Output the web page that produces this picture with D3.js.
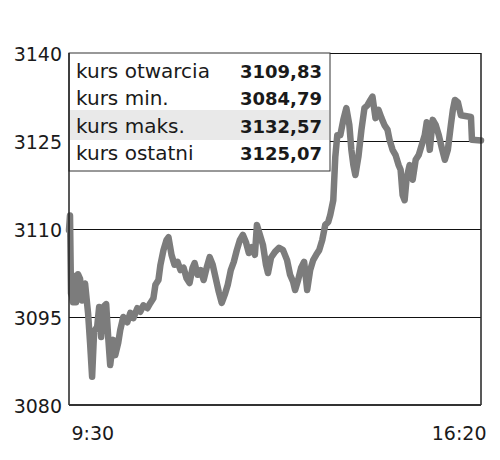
<!DOCTYPE html>
<html>
<head>
<meta charset="utf-8">
<script src="https://cdn.jsdelivr.net/npm/d3@7"></script>
<style>
  body { margin: 0; background: #fff; }
  text { font-family: "DejaVu Sans", sans-serif; fill: #1a1a1a; }
</style>
</head>
<body>
<svg id="chart" width="500" height="460"></svg>
<script>
// minutes after 9:30 and index level
var minutes = [0, 1, 2, 3, 4, 6, 7, 9, 11, 13, 16, 19, 21, 23, 25, 28, 30, 32, 34, 37, 39, 41, 44, 46, 49,
    51, 54, 58, 61, 64, 68, 71, 74, 78, 81, 84, 86, 89, 91, 94, 97, 99, 102, 105, 108, 111, 114, 117, 120,
    123, 125, 128, 131, 134, 137, 140, 143, 146, 149, 152, 155, 158, 161, 164, 167, 170, 173, 176, 179,
    182, 185, 187, 190, 193, 196, 198, 201, 205, 209, 213, 217, 220, 223, 225, 228, 231, 234, 237, 240,
    243, 246, 249, 252, 255, 258, 260, 263, 265, 267, 270, 273, 276, 279, 281, 283, 285, 288, 291, 294,
    297, 300, 302, 305, 308, 311, 314, 317, 319, 322, 325, 328, 330, 332, 334, 336, 339, 342, 345, 348,
    351, 354, 356, 359, 362, 365, 368, 371, 374, 377, 380, 382, 384, 387, 390, 400, 401, 410];
var values = [3109.8, 3112.3, 3099.0, 3098.5, 3097.5, 3102.0, 3097.5, 3102.3, 3101.5, 3097.8, 3100.7, 3095.6,
    3090.5, 3084.8, 3092.6, 3093.3, 3096.7, 3091.6, 3096.7, 3097.2, 3091.6, 3086.8, 3091.1, 3088.5, 3090.6,
    3092.8, 3095.0, 3094.1, 3095.7, 3094.8, 3096.5, 3095.9, 3097.0, 3096.5, 3097.4, 3098.2, 3100.5, 3101.3,
    3103.9, 3106.4, 3108.1, 3108.6, 3105.6, 3103.9, 3104.4, 3103.0, 3103.4, 3101.6, 3100.8, 3103.4, 3104.2,
    3102.2, 3103.0, 3101.3, 3103.4, 3105.2, 3103.9, 3101.6, 3099.3, 3097.4, 3098.8, 3100.5, 3103.0, 3104.4,
    3106.4, 3108.1, 3109.0, 3107.8, 3105.9, 3106.9, 3105.6, 3110.7, 3109.0, 3107.3, 3103.9, 3102.5, 3105.1,
    3106.1, 3106.8, 3106.4, 3104.7, 3102.2, 3101.0, 3099.6, 3101.3, 3103.4, 3104.4, 3099.6, 3103.0, 3104.7,
    3105.6, 3106.4, 3108.1, 3110.7, 3111.2, 3112.4, 3114.9, 3122.3, 3126.0, 3126.0, 3128.6, 3130.6, 3127.7,
    3123.5, 3120.9, 3119.2, 3122.3, 3126.9, 3130.6, 3131.1, 3132.0, 3132.57, 3128.9, 3130.3, 3128.9, 3127.7,
    3126.9, 3125.2, 3123.5, 3122.6, 3120.9, 3120.1, 3115.8, 3114.9, 3118.7, 3120.9, 3118.4, 3121.8, 3122.6,
    3124.3, 3126.0, 3128.2, 3123.5, 3128.6, 3127.7, 3126.0, 3123.8, 3121.8, 3123.5, 3127.7, 3130.3, 3132.0,
    3131.6, 3129.4, 3129.1, 3125.2, 3125.07];

var yTicks = [3080, 3095, 3110, 3125, 3140];
var xTicks = [0, 410];
var xTickLabels = ['9:30', '16:20'];

var legendLabels = ['kurs otwarcia', 'kurs min.', 'kurs maks.', 'kurs ostatni'];
var legendValues = ['3109,83', '3084,79', '3132,57', '3125,07'];

var margin = { top: 53, right: 19, bottom: 55, left: 69 };
var width = 500 - margin.left - margin.right;
var height = 460 - margin.top - margin.bottom;

var svg = d3.select('#chart');
var g = svg.append('g')
    .attr('transform', 'translate(' + margin.left + ',' + margin.top + ')');

var xScale = d3.scaleLinear().domain([0, 410]).range([0, width]);
var yScale = d3.scaleLinear().domain([3080, 3140]).range([height, 0]);

//y axis + grid
var yAxis = d3.axisLeft(yScale)
    .tickValues(yTicks)
    .tickSize(-width)
    .tickPadding(7)
    .tickFormat(d3.format('d'));

var yg = g.append('g').call(yAxis);
yg.select('.domain').remove();
yg.selectAll('line').attr('stroke', '#111').attr('stroke-width', 1);
yg.selectAll('text')
    .attr('font-size', 19)
    .attr('dy', '0.42em')
    .style('font-family', '"DejaVu Sans", sans-serif')
    .attr('fill', '#1a1a1a');

//x axis labels
var xAxis = d3.axisBottom(xScale)
    .tickValues(xTicks)
    .tickSize(0)
    .tickPadding(22)
    .tickFormat(function(d, i) { return xTickLabels[i]; });

var xg = g.append('g')
    .attr('transform', 'translate(0,' + height + ')')
    .call(xAxis);
xg.select('.domain').remove();
xg.selectAll('text')
    .attr('font-size', 19)
    .attr('dy', '0.71em')
    .style('font-family', '"DejaVu Sans", sans-serif')
    .attr('fill', '#1a1a1a')
    .attr('text-anchor', function(d, i) { return i === 0 ? 'start' : 'end'; })
    .attr('dx', function(d, i) { return i === 0 ? 2 : 5; });

//legend box
var boxW = 261, boxH = 118, rowH = 27.3;
var legend = g.append('g');
legend.append('rect')
    .attr('x', 0).attr('y', 0)
    .attr('width', boxW).attr('height', boxH)
    .attr('fill', '#fff')
    .attr('stroke', '#333')
    .attr('stroke-width', 1);
legend.append('rect')
    .attr('x', 1).attr('y', 57)
    .attr('width', boxW - 2).attr('height', 30)
    .attr('fill', '#e9e9e9');

legend.selectAll('.lbl')
    .data(legendLabels)
    .enter().append('text')
    .attr('class', 'lbl')
    .attr('x', 7)
    .attr('y', function(d, i) { return 25 + i * rowH; })
    .attr('font-size', 20)
    .text(function(d) { return d; });

legend.selectAll('.val')
    .data(legendValues)
    .enter().append('text')
    .attr('class', 'val')
    .attr('x', boxW - 8)
    .attr('y', function(d, i) { return 25 + i * rowH; })
    .attr('text-anchor', 'end')
    .attr('font-size', 18)
    .attr('font-weight', 'bold')
    .text(function(d) { return d; });

//price line
var points = minutes.map(function(m, i) { return [m, values[i]]; });
var lineFunction = d3.line()
    .x(function(d) { return xScale(d[0]); })
    .y(function(d) { return yScale(d[1]); });

g.append('path')
    .attr('d', lineFunction(points))
    .attr('stroke', '#7c7c7c')
    .attr('stroke-width', 6.5)
    .attr('stroke-linejoin', 'round')
    .attr('stroke-linecap', 'round')
    .attr('fill', 'none');

//frame
g.append('line').attr('x1', 0).attr('x2', 0).attr('y1', 0).attr('y2', height)
    .attr('stroke', '#222').attr('stroke-width', 1.5);
g.append('line').attr('x1', width).attr('x2', width).attr('y1', 0).attr('y2', height)
    .attr('stroke', '#222').attr('stroke-width', 1.5);
g.append('line').attr('x1', 0).attr('x2', width).attr('y1', height).attr('y2', height)
    .attr('stroke', '#333').attr('stroke-width', 2);
</script>
</body>
</html>
